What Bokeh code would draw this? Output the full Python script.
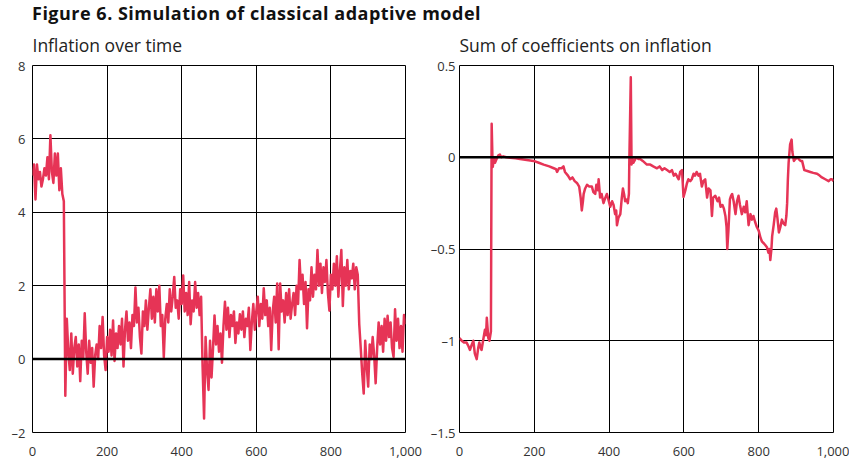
from bokeh.plotting import figure
from bokeh.models import Range1d, Span, Div
from bokeh.layouts import row, column
from bokeh.embed import file_html
from bokeh.resources import INLINE

TITLE = "Figure 6. Simulation of classical adaptive model"
LEFT_SUB = "Inflation over time"
RIGHT_SUB = "Sum of coefficients on inflation"

x_ticks = [0, 200, 400, 600, 800, 1000]
x_labels = ["0", "200", "400", "600", "800", "1,000"]
left_yticks = [-2, 0, 2, 4, 6, 8]
left_ylabels = ["–2", "0", "2", "4", "6", "8"]
right_yticks = [-1.5, -1, -0.5, 0, 0.5]
right_ylabels = ["–1.5", "–1", "–0.5", "0", "0.5"]

# Inflation, read every 4 periods (t = 0, 4, ..., 1000)
inflation_step = 4
inflation = [
    # t 0-96
    5.0, 5.3, 4.35, 5.3, 4.9, 5.1, 4.7, 4.9, 5.2, 5.0, 5.5, 4.9, 6.1, 5.1, 4.8, 5.6, 5.0, 5.6, 4.6, 5.2, 4.5, 4.3, -1.0, 1.1, 0.2,
    # t 100-196
    -0.3, 0.7, -0.4, 0.3, 0.6, -0.2, 0.4, -0.6, 0.5, 0.0, 1.25, 0.2, -0.4, 0.5, -0.1, 0.3, -0.75, 0.1, 0.4, 0.0, 0.9, 0.3, 1.15, 0.1, -0.3,
    # t 200-296
    0.6, 0.2, 0.8, 0.1, 1.05, -0.05, 0.7, 0.3, 0.9, 0.4, 1.1, -0.2, 0.8, 1.3, 0.5, 1.0, 0.3, 1.2, 0.9, 1.95, 1.0, 1.4, 0.6, 0.15, 1.3,
    # t 300-396
    0.9, 1.6, 0.8, 1.4, 1.9, 1.1, 1.7, 1.0, 1.9, 1.3, 2.0, 0.9, 1.2, 0.05, 1.1, 1.5, 1.0, 1.9, 1.3, 1.7, 2.24, 1.4, 1.6, 1.1, 1.9,
    # t 400-496
    1.5, 2.28, 1.3, 1.8, 1.2, 2.1, 0.95, 1.6, 1.3, 2.1, 1.4, 1.8, 1.2, 1.7, -0.2, -1.62, 0.6, -0.3, -0.84, 0.5, -0.5, 0.3, 1.19, 0.4, 0.9,
    # t 500-596
    0.2, 0.7, -0.1, 0.9, 1.56, 0.8, 1.4, 0.6, 1.2, 0.9, 1.3, 0.44, 1.0, 0.7, 1.22, 0.8, 1.3, 0.6, 1.1, 0.9, 1.4, 0.25, 1.0, 1.5, 0.8,
    # t 600-696
    1.3, 1.7, 0.9, 1.5, 1.1, 1.93, 1.2, 1.6, 0.9, 1.4, 0.25, 1.3, 1.7, 1.0, 2.06, 0.27, 2.06, 1.3, 1.6, 1.0, 1.8, 1.2, 1.9, 1.1, 1.5,
    # t 700-796
    1.8, 1.2, 2.0, 1.5, 2.7, 1.9, 2.3, 1.5, 2.1, 0.84, 1.9, 1.6, 2.5, 1.7, 2.3, 1.9, 2.97, 2.0, 2.6, 1.8, 2.5, 2.1, 2.7, 1.8, 1.32,
    # t 800-896
    2.3, 1.9, 2.6, 2.0, 2.8, 1.7, 2.4, 2.97, 1.45, 2.5, 2.0, 2.7, 1.9, 2.4, 2.2, 2.6, 1.9, 2.5, 2.3, 0.95, 0.3, -0.4, -0.94, 0.5, -0.2,
    # t 900-996
    -0.75, 0.4, 0.0, 0.6, 0.1, -0.66, 0.3, 1.0, 0.4, 0.9, 0.2, 1.1, 0.5, 1.18, 0.6, 1.0, 0.3, 0.06, 1.36, 0.5, 1.1, 0.3, 0.9, 0.2, 1.2,
    # t 1000
    0.95,
]
inflation_t = [i * inflation_step for i in range(len(inflation))]

# Sum of coefficients on inflation (t, value)
coef_t = [
    0, 6, 12, 19, 24, 28, 33, 37, 41, 46, 50, 53, 57, 59, 63, 68, 71, 73, 75, 77, 80, 84,
    86, 88, 89, 92, 95, 99, 104, 108, 112, 117, 125, 135, 150, 162, 180, 198, 212, 225, 240, 252,
    258, 261, 266, 273, 278, 282, 290, 296, 302, 308, 314, 320, 324, 327, 330, 332, 336, 341, 347, 354,
    358, 363, 366, 370, 372, 376, 380, 385, 390, 394, 398, 403, 408, 412, 416, 419, 421, 425, 430, 434,
    437, 440, 443, 447, 450, 453, 454, 456, 458, 460, 463, 465, 470, 474, 478, 483, 490, 501, 510, 518,
    528, 535, 542, 548, 555, 562, 568, 573, 578, 583, 586, 590, 595, 599, 604, 608, 612, 617, 621, 626,
    630, 634, 639, 643, 648, 652, 657, 662, 666, 671, 675, 678, 684, 690, 694, 698, 703, 707, 711, 714,
    716, 719, 723, 726, 729, 733, 738, 742, 746, 750, 755, 760, 764, 768, 773, 778, 782, 786, 790, 795,
    800, 805, 809, 814, 818, 822, 826, 829, 831, 834, 836, 840, 844, 847, 850, 854, 858, 862, 866, 871,
    874, 876, 878, 880, 884, 888, 890, 894, 898, 903, 907, 912, 916, 922, 930, 938, 946, 956, 963, 969,
    978, 987, 992, 996, 1000,
]
coef = [
    -0.985, -1.00, -1.01, -1.01, -1.03, -1.05, -1.02, -1.00, -1.07, -1.10, -1.04, -1.01, -1.04, -1.05, -1.00, -0.94, -0.97, -0.875, -0.93, -0.985, -1.00, -0.95,
    0.183, 0.0, -0.053, 0.0, -0.03, -0.01, 0.01, 0.015, 0.0, 0.005, 0.0, -0.003, -0.005, -0.01, -0.015, -0.02, -0.03, -0.04, -0.05, -0.06,
    -0.065, -0.08, -0.06, -0.06, -0.05, -0.08, -0.10, -0.12, -0.11, -0.13, -0.14, -0.16, -0.22, -0.29, -0.24, -0.20, -0.17, -0.15, -0.16, -0.16,
    -0.19, -0.20, -0.15, -0.18, -0.12, -0.22, -0.20, -0.25, -0.22, -0.20, -0.23, -0.27, -0.24, -0.26, -0.31, -0.29, -0.37, -0.33, -0.31, -0.22,
    -0.17, -0.20, -0.24, -0.23, -0.25, -0.20, -0.03, 0.20, 0.436, -0.04, -0.01, -0.03, -0.01, 0.0, -0.01, -0.01, -0.02, -0.04, -0.04, -0.05,
    -0.06, -0.05, -0.07, -0.06, -0.07, -0.08, -0.07, -0.10, -0.09, -0.11, -0.12, -0.08, -0.07, -0.216, -0.18, -0.143, -0.12, -0.13, -0.12, -0.09,
    -0.10, -0.08, -0.10, -0.09, -0.16, -0.13, -0.12, -0.22, -0.17, -0.18, -0.32, -0.22, -0.21, -0.24, -0.22, -0.27, -0.26, -0.28, -0.32, -0.38,
    -0.50, -0.40, -0.23, -0.21, -0.20, -0.24, -0.31, -0.24, -0.21, -0.26, -0.31, -0.27, -0.30, -0.24, -0.37, -0.31, -0.34, -0.32, -0.35, -0.38,
    -0.40, -0.44, -0.46, -0.47, -0.48, -0.49, -0.52, -0.50, -0.56, -0.50, -0.43, -0.37, -0.30, -0.28, -0.33, -0.41, -0.38, -0.34, -0.36, -0.37,
    -0.32, -0.25, -0.12, -0.03, 0.07, 0.096, 0.03, -0.02, -0.01, 0.0, -0.01, -0.02, -0.02, -0.07, -0.075, -0.08, -0.085, -0.09, -0.10, -0.11,
    -0.12, -0.13, -0.12, -0.12, -0.13,
]

RED = "#E63456"
FONT = "Open Sans"
DIV_H = 19
TOP_BORDER = 46
BOTTOM_BORDER = 28
FIG_H = 460 - DIV_H


def make_fig(width, bl, br, ystand, yrange, yticks, ylabels, sub):
    p = figure(width=width, height=FIG_H, x_range=Range1d(0, 1000), y_range=Range1d(*yrange),
               output_backend="svg", toolbar_location=None, title=sub,
               min_border_left=bl, min_border_right=br,
               min_border_top=TOP_BORDER, min_border_bottom=BOTTOM_BORDER,
               background_fill_color="white", border_fill_color=None)
    p.title.text_font = FONT
    p.title.text_font_size = "17.5px"
    p.title.text_font_style = "normal"
    p.title.text_color = "#222222"
    p.title.align = "left"
    p.title.offset = 0
    p.title.standoff = 18

    p.outline_line_color = "black"
    p.outline_line_width = 1
    p.outline_line_alpha = 1

    p.xaxis.ticker = x_ticks
    p.xaxis.major_label_overrides = dict(zip(x_ticks, x_labels))
    p.yaxis.ticker = yticks
    p.yaxis.major_label_overrides = dict(zip(yticks, ylabels))
    for ax in (p.xaxis, p.yaxis):
        ax.axis_line_color = None
        ax.major_tick_line_color = None
        ax.minor_tick_line_color = None
        ax.major_tick_out = 0
        ax.major_tick_in = 0
        ax.major_label_text_font = FONT
        ax.major_label_text_font_size = "13px"
        ax.major_label_text_color = "#333333"
    p.xaxis.major_label_standoff = 14
    p.yaxis.major_label_standoff = ystand

    p.xgrid.ticker = x_ticks
    p.ygrid.ticker = yticks
    for g in (p.xgrid, p.ygrid):
        g.grid_line_color = "black"
        g.grid_line_alpha = 1
        g.grid_line_width = 1
    return p


p1 = make_fig(426, 32, 21, 7, (-2, 8), left_yticks, left_ylabels, LEFT_SUB)
p1.line(inflation_t, inflation, line_color=RED, line_width=2.5, line_join="round")
p1.add_layout(Span(location=0, dimension="width", line_color="black", line_width=2.5))

p2 = make_fig(423, 33, 16, 4, (-1.5, 0.5), right_yticks, right_ylabels, RIGHT_SUB)
p2.line(coef_t, coef, line_color=RED, line_width=2.5, line_join="round")
p2.add_layout(Span(location=0, dimension="width", line_color="black", line_width=2.5))

title_div = Div(text=f'<span style="position:relative; top:3.5px">{TITLE}</span>',
                width=817, height=DIV_H, margin=(0, 0, 0, 32),
                styles={"font-family": "'Open Sans', sans-serif", "font-size": "18px",
                        "font-weight": "bold", "line-height": f"{DIV_H}px", "color": "#111111",
                        "letter-spacing": "0.5px", "white-space": "nowrap",
                        "overflow": "visible"})

layout = column(title_div, row(p1, p2))

open("out.html", "w").write(file_html(layout, INLINE))
